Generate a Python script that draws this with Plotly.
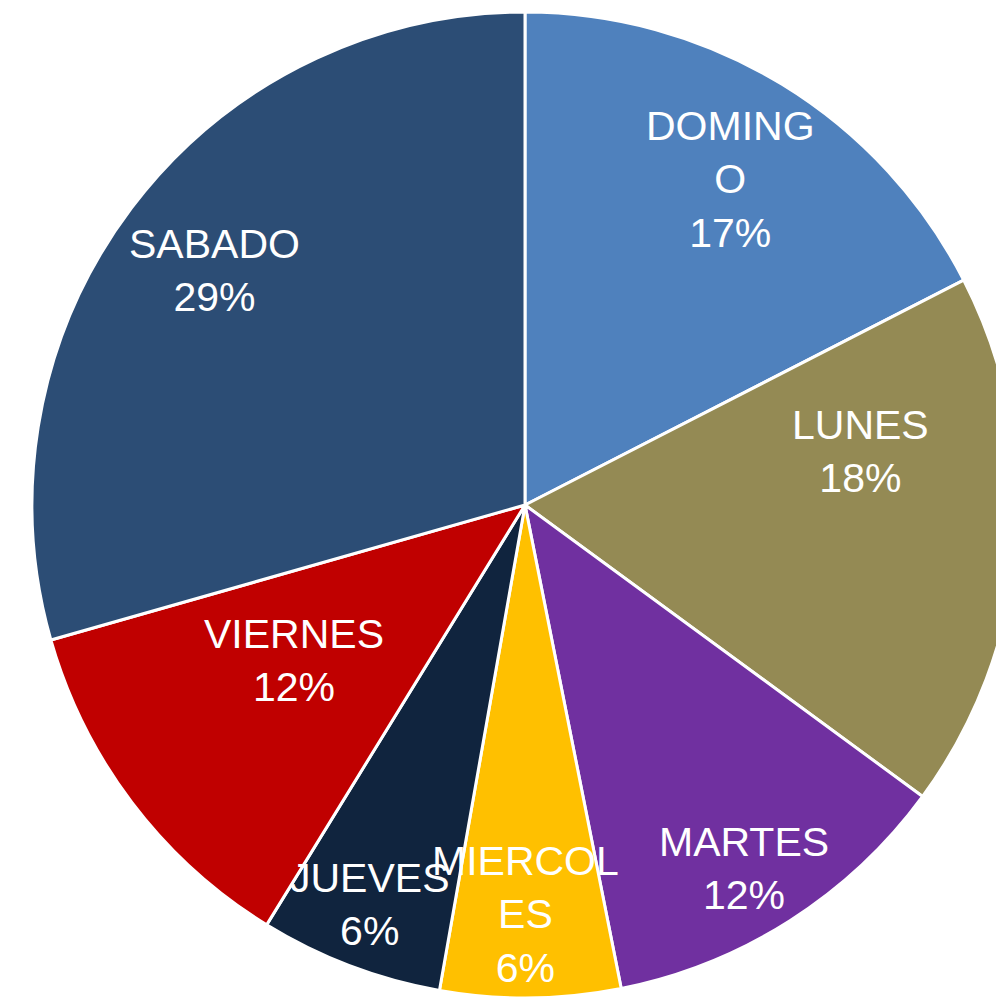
import math
import plotly.graph_objects as go

labels = ["DOMINGO", "LUNES", "MARTES", "MIERCOLES", "JUEVES", "VIERNES", "SABADO"]
wrapped = ["DOMING<br>O", "LUNES", "MARTES", "MIERCOL<br>ES", "JUEVES", "VIERNES", "SABADO"]
values = [17.45, 17.6, 11.8, 5.9, 6.0, 11.8, 29.4]

colors = ["#4F81BD", "#948A54", "#7030A0", "#FFC000", "#10243E", "#C00000", "#2C4D75"]
# label placement style (radius fraction, angle offset in degrees)
label_r = [0.78, 0.69, 0.86, 0.83, 0.87, 0.565, 0.79]
label_dang = [0.8, -13.6, 1.4, 0.6, 0.4, 3.3, 0.0]

W, H = 1018, 999
L, T = 32, 12
D = 986  # pie domain size in px

fig = go.Figure(go.Pie(
    labels=labels, values=values, sort=False, direction="clockwise", rotation=0,
    marker=dict(colors=colors, line=dict(color="white", width=3)),
    textinfo="none", hoverinfo="label+percent", showlegend=False,
    domain=dict(x=[L / W, (L + D) / W], y=[1 - (T + D) / H, 1 - T / H]),
))

total = sum(values)
cx = (L + D / 2) / W
cy = 1 - (T + D / 2) / H
R = D / 2
cum = 0
for i, v in enumerate(values):
    mid = (cum + v / 2) / total * 360 + label_dang[i]
    cum += v
    a = math.radians(mid)
    r = R * label_r[i]
    x = cx + r * math.sin(a) / W
    y = cy + r * math.cos(a) / H
    pct = round(v / total * 100)
    fig.add_annotation(x=x, y=y, xref="paper", yref="paper", showarrow=False,
                       text=f"{wrapped[i]}<br>{pct}%", align="center",
                       font=dict(family="Liberation Sans, Arial", size=41, color="white"),
                       xanchor="center", yanchor="middle")

fig.update_layout(width=W, height=H, margin=dict(l=0, r=0, t=0, b=0),
                  paper_bgcolor="white", plot_bgcolor="white")

fig.write_html("out.html", config={"displayModeBar": False},
               post_script="document.body.style.margin='0';document.body.style.overflow='hidden';document.documentElement.style.overflow='hidden';")
